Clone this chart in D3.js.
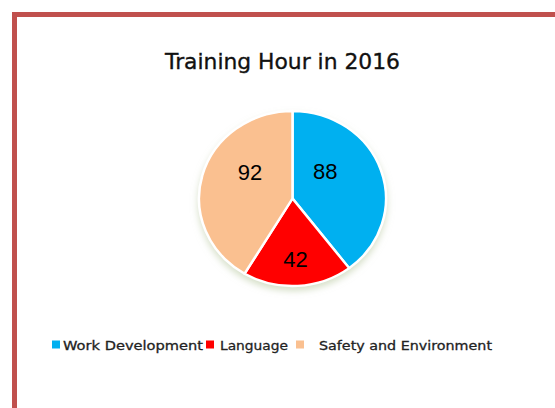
<!DOCTYPE html>
<html>
<head>
<meta charset="utf-8">
<script src="https://cdn.jsdelivr.net/npm/d3@7"></script>
<style>
  html, body { margin: 0; padding: 0; background: #ffffff; }
  svg { display: block; }
</style>
</head>
<body>
<svg id="chart" width="555" height="408"></svg>
<script>
// ---- data ----
const title = "Training Hour in 2016";
const categories = ["Work Development", "Language", "Safety and Environment"];
const values = [88, 42, 92];
const colors = ["#00b0f0", "#ff0000", "#fac090"];

// ---- layout ----
const W = 555, H = 408;
const cx = 292.5, cy = 198.5, R = 93.5, yScale = 0.936;
const labelNudge = [[-16, -12], [0, 13], [7, -13]];
const legendX = [[52, 63, 140], [206, 220, 68], [296, 319, 173]];
const legendY = 345;

const svg = d3.select("#chart");

// border
svg.append("rect")
  .attr("x", 14.5).attr("y", 14.5)
  .attr("width", W + 20).attr("height", H + 20)
  .attr("fill", "#ffffff")
  .attr("stroke", "#c0504d").attr("stroke-width", 5);

// title
svg.append("text")
  .attr("x", 282.5).attr("y", 69)
  .attr("text-anchor", "middle")
  .attr("font-family", "DejaVu Sans, Verdana, sans-serif")
  .attr("font-size", 21.5)
  .attr("fill", "#111111")
  .attr("stroke", "#111111").attr("stroke-width", 0.35)
  .attr("textLength", 235).attr("lengthAdjust", "spacingAndGlyphs")
  .text(title);

// shadow filter
const defs = svg.append("defs");
const f = defs.append("filter").attr("id", "shadow")
  .attr("x", "-30%").attr("y", "-30%").attr("width", "160%").attr("height", "160%");
f.append("feGaussianBlur").attr("in", "SourceAlpha").attr("stdDeviation", 3.5).attr("result", "b");
f.append("feOffset").attr("in", "b").attr("dx", 0).attr("dy", 4).attr("result", "o");
f.append("feFlood").attr("flood-color", "#b8c8a0").attr("flood-opacity", 0.55).attr("result", "c");
f.append("feComposite").attr("in", "c").attr("in2", "o").attr("operator", "in").attr("result", "s");
const m = f.append("feMerge");
m.append("feMergeNode").attr("in", "s");
m.append("feMergeNode").attr("in", "SourceGraphic");

const pie = d3.pie().sort(null).value(d => d)(values);
const arc = d3.arc().innerRadius(0).outerRadius(R);
const labelArc = d3.arc().innerRadius(R * 0.55).outerRadius(R * 0.55);

const g = svg.append("g")
  .attr("transform", `translate(${cx},${cy}) scale(1,${yScale})`);

const pieG = g.append("g").attr("filter", "url(#shadow)");
pieG.selectAll("path")
  .data(pie)
  .join("path")
  .attr("d", arc)
  .attr("fill", (d, i) => colors[i])
  .attr("stroke", "#ffffff")
  .attr("stroke-width", 2.5)
  .attr("stroke-linejoin", "round");

// labels (not scaled)
svg.append("g").selectAll("text")
  .data(pie)
  .join("text")
  .attr("x", (d, i) => cx + labelArc.centroid(d)[0] + labelNudge[i][0])
  .attr("y", (d, i) => cy + labelArc.centroid(d)[1] * yScale + labelNudge[i][1])
  .attr("text-anchor", "middle")
  .attr("dominant-baseline", "central")
  .attr("font-family", "Liberation Sans, Arial, sans-serif")
  .attr("font-size", 22)
  .attr("fill", "#000000")
  .text(d => d.data);

// legend
const lg = svg.append("g");
categories.forEach((c, i) => {
  lg.append("rect")
    .attr("x", legendX[i][0]).attr("y", legendY - 4.5)
    .attr("width", 8).attr("height", 8)
    .attr("fill", colors[i]);
  lg.append("text")
    .attr("x", legendX[i][1]).attr("y", legendY)
    .attr("dominant-baseline", "central")
    .attr("font-family", "DejaVu Sans, Verdana, sans-serif")
    .attr("font-size", 13)
    .attr("fill", "#222222")
    .attr("stroke", "#222222").attr("stroke-width", 0.3)
    .attr("textLength", legendX[i][2])
    .attr("lengthAdjust", "spacingAndGlyphs")
    .text(c);
});
</script>
</body>
</html>
